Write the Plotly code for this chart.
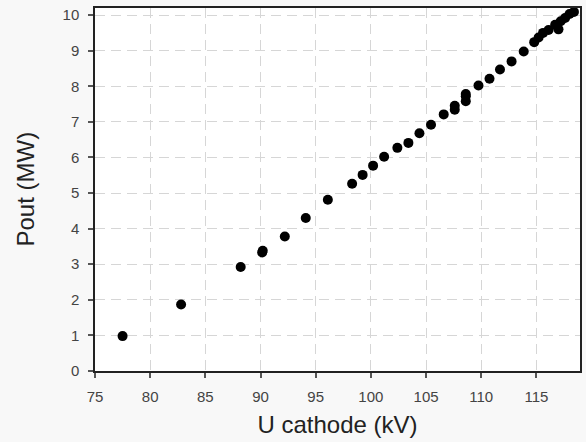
import plotly.graph_objects as go

u_cathode = [77.5, 82.8, 88.2, 90.15, 90.2, 92.2, 94.1, 96.1, 98.3, 99.25, 100.2,
             101.2, 102.4, 103.4, 104.4, 105.45, 106.6, 107.6, 107.6, 108.6, 108.6,
             108.6, 109.75, 110.75, 111.7, 112.75, 113.85, 114.8, 115.2, 115.6,
             116.1, 116.7, 117.0, 117.2, 117.6, 118.0, 118.4]
p_out = [0.98, 1.87, 2.92, 3.33, 3.38, 3.78, 4.30, 4.81, 5.26, 5.51, 5.77,
         6.02, 6.27, 6.41, 6.68, 6.92, 7.21, 7.34, 7.45, 7.58, 7.72, 7.78,
         8.02, 8.21, 8.47, 8.70, 8.98, 9.24, 9.37, 9.50, 9.58, 9.73, 9.60,
         9.83, 9.92, 10.03, 10.09]

x_ticks = [75, 80, 85, 90, 95, 100, 105, 110, 115]
y_ticks = [0, 1, 2, 3, 4, 5, 6, 7, 8, 9, 10]

FONT = "Arial, Liberation Sans, sans-serif"

fig = go.Figure(go.Scatter(
    x=u_cathode, y=p_out, mode="markers",
    marker=dict(color="black", size=10, symbol="circle"),
))

axis_common = dict(
    showline=True, linecolor="#222222", linewidth=1.5, mirror=True,
    showgrid=True, gridcolor="#d6d6d6", griddash="10px,6px", gridwidth=1.3,
    ticks="outside", ticklen=5, tickcolor="#555555", tickwidth=1.5,
    tickfont=dict(family=FONT, size=15, color="#444444"),
    zeroline=False,
)

fig.update_xaxes(range=[75, 118.95], tickvals=x_ticks, ticklabelstandoff=6,
                 title=dict(text="U cathode (kV)", font=dict(family=FONT, size=24, color="#222222"), standoff=12),
                 **axis_common)
fig.update_yaxes(range=[0, 10.2], tickvals=y_ticks, ticklabelstandoff=6,
                 **axis_common)

fig.add_annotation(
    text="Pout (MW)", xref="paper", yref="paper", x=0, y=0.5,
    xshift=-70, xanchor="center", yanchor="middle", textangle=-90,
    showarrow=False, font=dict(family=FONT, size=24, color="#222222"),
)

fig.update_layout(
    width=586, height=442,
    margin=dict(l=95, r=4, t=8, b=71),
    paper_bgcolor="#f8f8f8", plot_bgcolor="white",
    showlegend=False,
)

fig.write_html("out.html")
